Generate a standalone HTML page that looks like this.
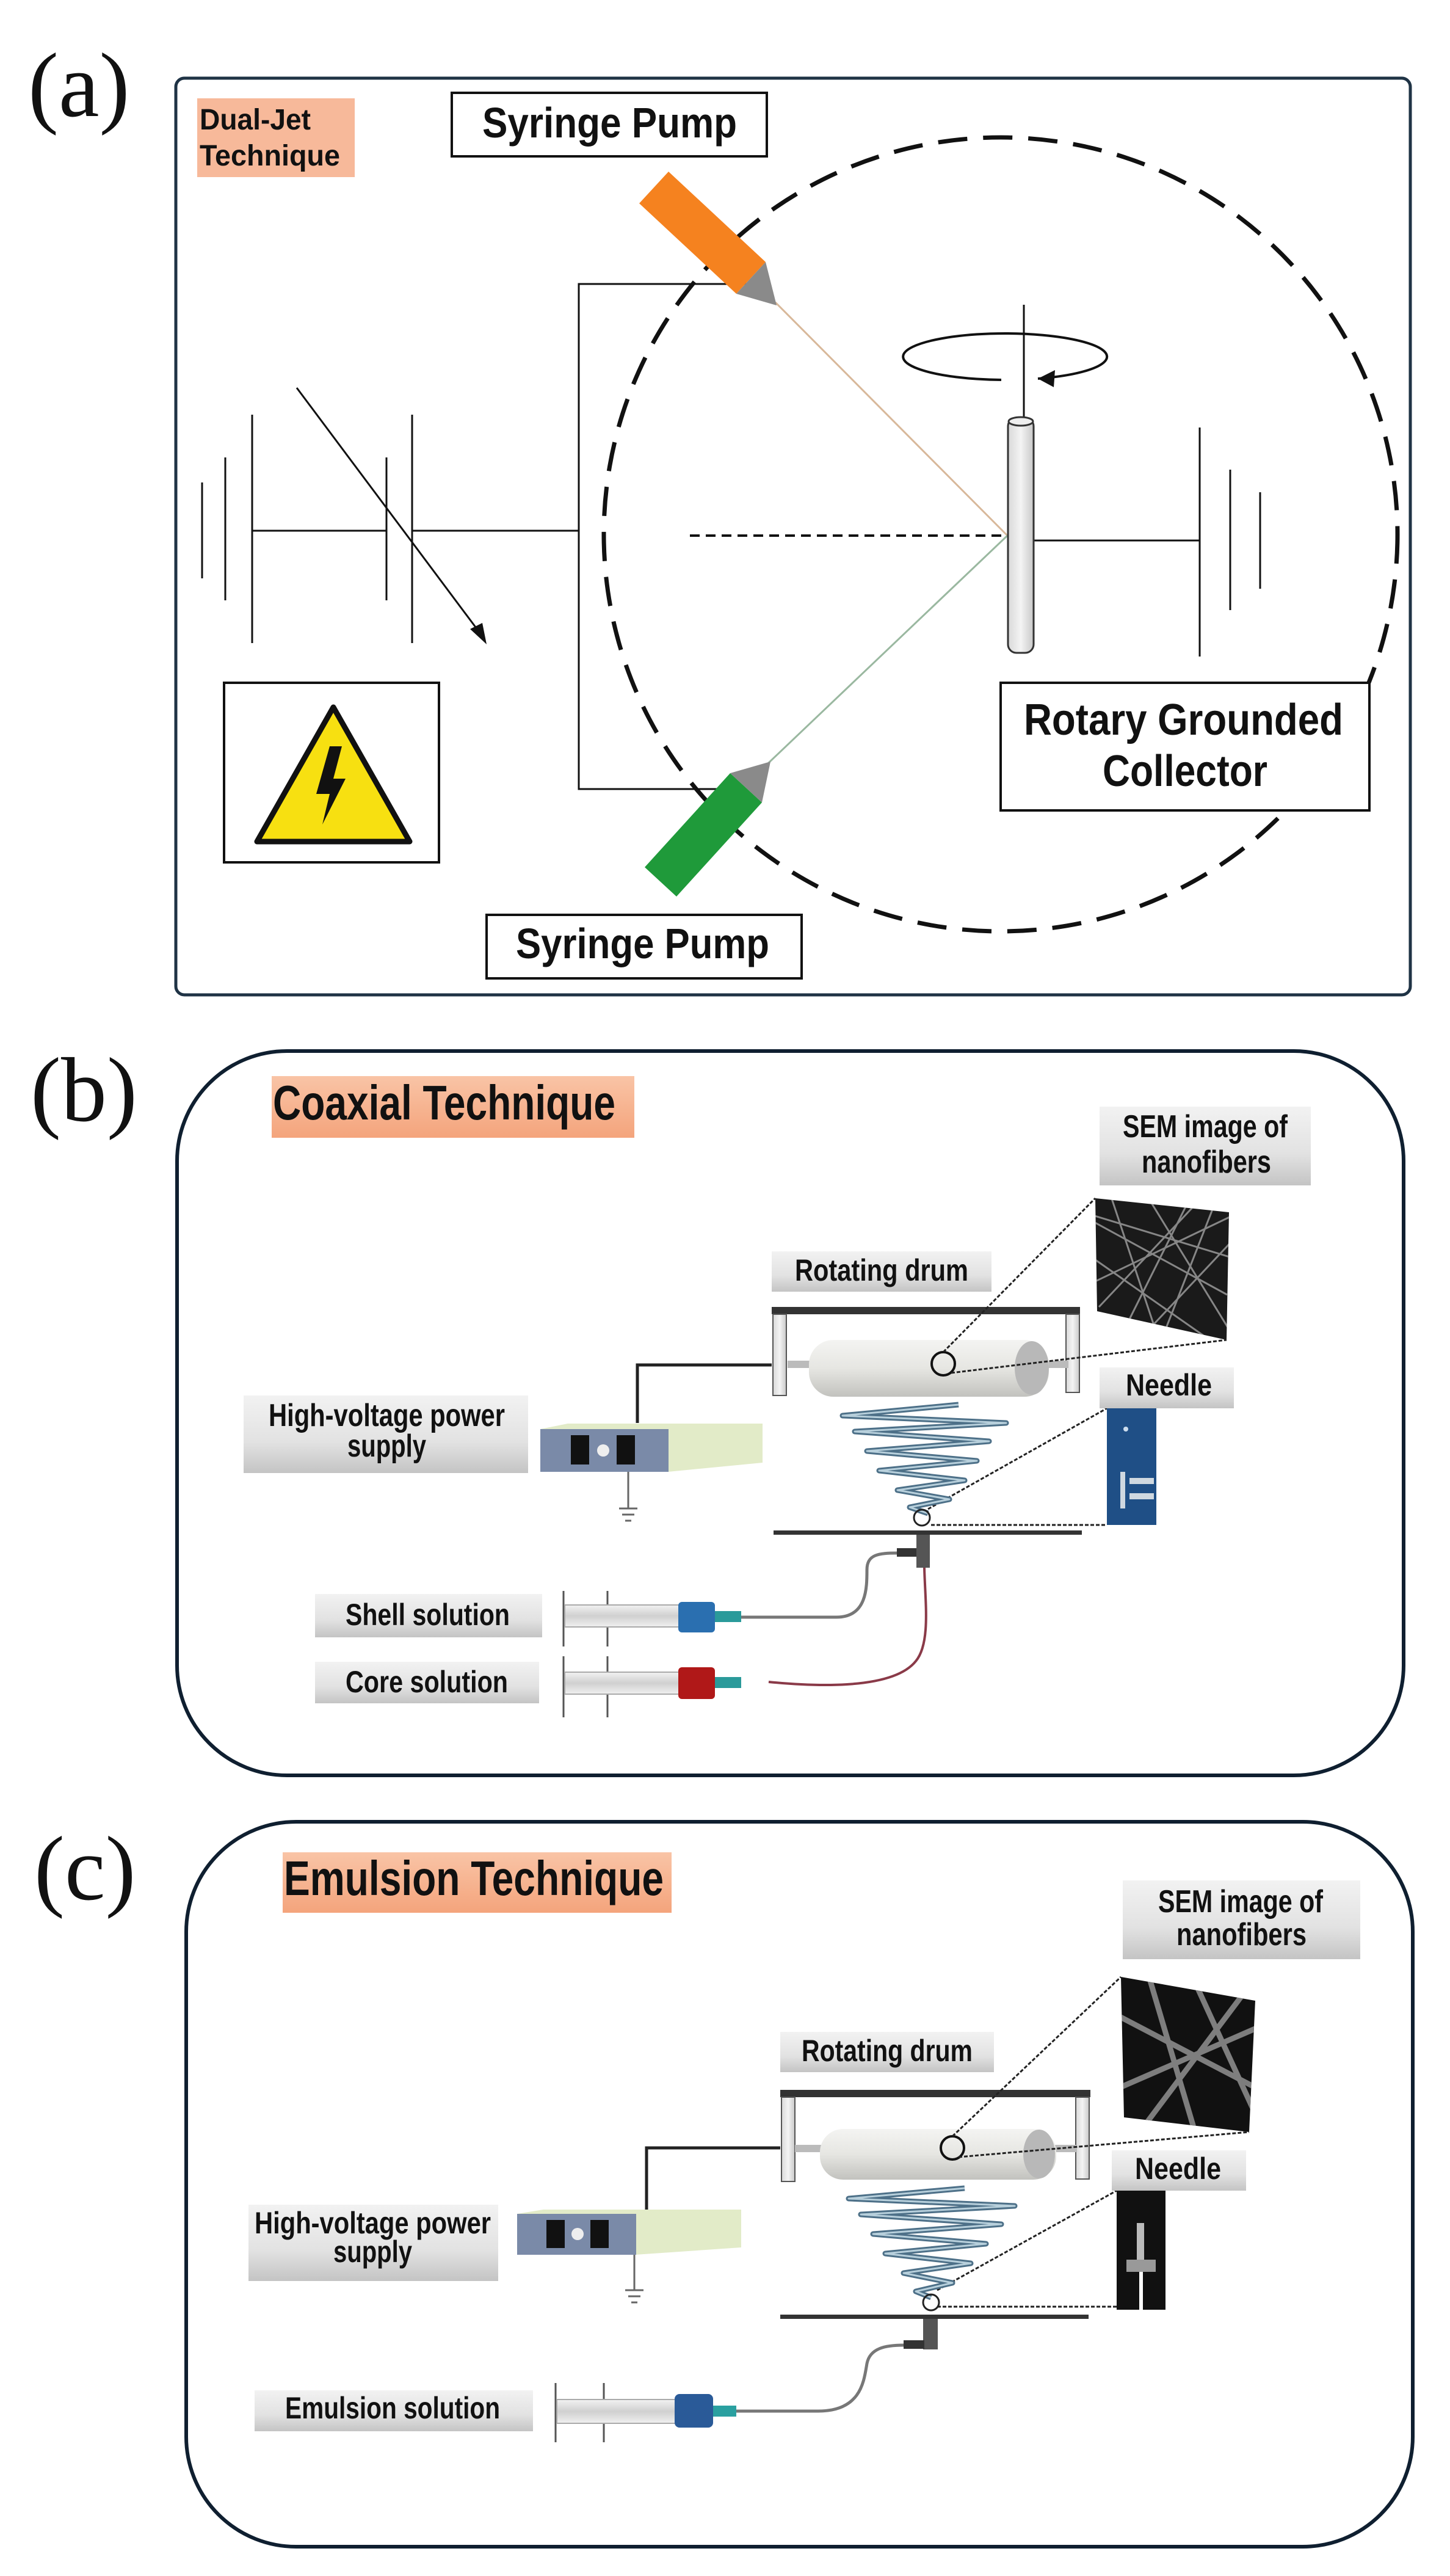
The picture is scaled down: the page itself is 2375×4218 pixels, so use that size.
<!DOCTYPE html>
<html><head><meta charset="utf-8"><style>html,body{margin:0;padding:0;background:#fff}svg{display:block}</style></head>
<body>
<svg width="2375" height="4218" viewBox="0 0 2375 4218" xmlns="http://www.w3.org/2000/svg" font-family="'Liberation Sans', sans-serif">
<defs>
<linearGradient id="lg" x1="0" y1="0" x2="0" y2="1"><stop offset="0" stop-color="#f2f2f2"/><stop offset="0.6" stop-color="#e2e2e2"/><stop offset="1" stop-color="#c4c4c4"/></linearGradient>
<linearGradient id="drum" x1="0" y1="0" x2="0" y2="1"><stop offset="0" stop-color="#f4f4f2"/><stop offset="0.5" stop-color="#e6e6e2"/><stop offset="1" stop-color="#c2c2be"/></linearGradient>
<linearGradient id="sal" x1="0" y1="0" x2="0" y2="1"><stop offset="0" stop-color="#f9c4a6"/><stop offset="1" stop-color="#f4a47c"/></linearGradient>
<linearGradient id="cyl" x1="0" y1="0" x2="1" y2="0"><stop offset="0" stop-color="#d8d8d8"/><stop offset="0.5" stop-color="#f4f4f4"/><stop offset="1" stop-color="#c8c8c8"/></linearGradient>
<linearGradient id="bar" x1="0" y1="0" x2="0" y2="1"><stop offset="0" stop-color="#f2f2f2"/><stop offset="0.5" stop-color="#d0d0d0"/><stop offset="1" stop-color="#f0f0f0"/></linearGradient>
<clipPath id="semb"><polygon points="1794,1962 2013,1985 2009,2194 1797,2147"/></clipPath>
<clipPath id="semc"><polygon points="1836,3237 2056,3276 2046,3491 1841,3467"/></clipPath>
</defs>

<!-- ================= PANEL A ================= -->
<text x="46" y="190" font-family="'Liberation Serif', serif" font-size="150" fill="#111">(a)</text>
<rect x="288" y="128" width="2022" height="1501" rx="14" fill="#fff" stroke="#1f3345" stroke-width="5"/>

<rect x="323" y="161" width="258" height="129" fill="#f7b99a"/>
<text x="327" y="212" font-size="48" font-weight="bold" textLength="182" lengthAdjust="spacingAndGlyphs" fill="#111">Dual-Jet</text>
<text x="327" y="271" font-size="48" font-weight="bold" textLength="230" lengthAdjust="spacingAndGlyphs" fill="#111">Technique</text>

<rect x="740" y="152" width="516" height="104" fill="#fff" stroke="#111" stroke-width="4"/>
<text x="790" y="225" font-size="70" font-weight="bold" textLength="417" lengthAdjust="spacingAndGlyphs" fill="#111">Syringe Pump</text>

<!-- dashed circle -->
<circle cx="1639" cy="875" r="650" fill="none" stroke="#111" stroke-width="7" stroke-dasharray="48,26"/>

<!-- wires -->
<g stroke="#111" stroke-width="3" fill="none">
<polyline points="1229,465 948,465 948,1292 1214,1292"/>
<line x1="413" y1="869" x2="633" y2="869"/>
<line x1="675" y1="869" x2="948" y2="869"/>
<line x1="331" y1="790" x2="331" y2="947"/>
<line x1="369" y1="749" x2="369" y2="983"/>
<line x1="413" y1="679" x2="413" y2="1053"/>
<line x1="633" y1="749" x2="633" y2="983"/>
<line x1="675" y1="679" x2="675" y2="1053"/>
<line x1="486" y1="635" x2="785" y2="1035"/>
<line x1="1693" y1="885" x2="1965" y2="885"/>
<line x1="1965" y1="700" x2="1965" y2="1075"/>
<line x1="2015" y1="769" x2="2015" y2="999"/>
<line x1="2064" y1="806" x2="2064" y2="964"/>
<line x1="1677" y1="499" x2="1677" y2="684"/>
</g>
<polygon points="797,1055 770,1030 790,1020" fill="#111"/>
<line x1="1130" y1="877" x2="1645" y2="877" stroke="#111" stroke-width="4" stroke-dasharray="16,10"/>

<!-- jets -->
<line x1="1270" y1="495" x2="1650" y2="877" stroke="#d8b89a" stroke-width="3"/>
<line x1="1259" y1="1249" x2="1650" y2="877" stroke="#9ab8a0" stroke-width="3"/>

<!-- rotation ellipse -->
<path d="M1640,622 A167,38 0 1 1 1700,620" fill="none" stroke="#111" stroke-width="4"/>
<polygon points="1700,620 1728,606 1726,634" fill="#111"/>

<!-- collector cylinder -->
<rect x="1651" y="684" width="42" height="385" rx="14" fill="url(#cyl)" stroke="#333" stroke-width="3"/>
<ellipse cx="1672" cy="690" rx="20" ry="7" fill="#eee" stroke="#333" stroke-width="3"/>

<!-- orange syringe -->
<polygon points="1095,281 1047,333 1206,481 1254,429" fill="#f5821f"/>
<polygon points="1254,429 1206,481 1272,500" fill="#8a8a8a"/>
<!-- green syringe -->
<polygon points="1108,1468 1056,1420 1196,1266 1248,1314" fill="#1f9a3a"/>
<polygon points="1248,1314 1196,1266 1262,1247" fill="#8a8a8a"/>

<!-- warning -->
<rect x="367" y="1118" width="352" height="294" fill="#fff" stroke="#111" stroke-width="4"/>
<polygon points="546,1158 421,1378 671,1378" fill="#f7e011" stroke="#111" stroke-width="9" stroke-linejoin="round"/>
<polygon points="540,1222 518,1300 540,1300 528,1350 566,1275 546,1275 560,1222" fill="#111"/>

<rect x="1639" y="1118" width="604" height="209" fill="#fff" stroke="#111" stroke-width="4"/>
<text x="1677" y="1203" font-size="72" font-weight="bold" textLength="523" lengthAdjust="spacingAndGlyphs" fill="#111">Rotary Grounded</text>
<text x="1806" y="1287" font-size="72" font-weight="bold" textLength="270" lengthAdjust="spacingAndGlyphs" fill="#111">Collector</text>

<rect x="797" y="1498" width="516" height="104" fill="#fff" stroke="#111" stroke-width="4"/>
<text x="845" y="1569" font-size="70" font-weight="bold" textLength="415" lengthAdjust="spacingAndGlyphs" fill="#111">Syringe Pump</text>

<!-- ================= PANEL B ================= -->
<text x="50" y="1835" font-family="'Liberation Serif', serif" font-size="150" fill="#111">(b)</text>
<rect x="290" y="1721" width="2009" height="1186" rx="180" fill="#fff" stroke="#0f1f30" stroke-width="6"/>

<rect x="445" y="1762" width="594" height="101" fill="url(#sal)"/>
<text x="447" y="1833" font-size="80" font-weight="bold" textLength="561" lengthAdjust="spacingAndGlyphs" fill="#111">Coaxial Technique</text>

<rect x="1801" y="1812" width="346" height="129" fill="url(#lg)"/>
<text x="1839" y="1862" font-size="52" font-weight="bold" textLength="270" lengthAdjust="spacingAndGlyphs" fill="#111">SEM image of</text>
<text x="1870" y="1920" font-size="52" font-weight="bold" textLength="212" lengthAdjust="spacingAndGlyphs" fill="#111">nanofibers</text>

<polygon points="1794,1962 2013,1985 2009,2194 1797,2147" fill="#1a1a1a"/>
<g clip-path="url(#semb)" stroke="#9a9a9a" stroke-width="3" opacity="0.85">
<line x1="1790" y1="2000" x2="2010" y2="2120"/><line x1="1820" y1="1960" x2="1900" y2="2200"/><line x1="1950" y1="1960" x2="1830" y2="2200"/><line x1="1790" y1="2100" x2="2020" y2="1990"/><line x1="1880" y1="1960" x2="2015" y2="2180"/><line x1="1790" y1="2060" x2="1990" y2="2200"/><line x1="1990" y1="1970" x2="1900" y2="2200"/><line x1="1790" y1="1990" x2="2020" y2="2060"/><line x1="1860" y1="2200" x2="2020" y2="2030"/><line x1="1800" y1="2140" x2="1960" y2="1970"/>
</g>

<rect x="1264" y="2049" width="360" height="66" fill="url(#lg)"/>
<text x="1302" y="2097" font-size="50" font-weight="bold" textLength="284" lengthAdjust="spacingAndGlyphs" fill="#111">Rotating drum</text>

<!-- frame -->
<rect x="1264" y="2140" width="505" height="12" fill="#333"/>
<rect x="1266" y="2152" width="22" height="133" fill="url(#cyl)" stroke="#555" stroke-width="2"/>
<rect x="1746" y="2152" width="22" height="128" fill="url(#cyl)" stroke="#555" stroke-width="2"/>
<rect x="1290" y="2228" width="460" height="12" fill="#bbb"/>
<rect x="1325" y="2194" width="393" height="93" rx="40" fill="url(#drum)"/>
<ellipse cx="1690" cy="2240" rx="28" ry="44" fill="#b8b8b8"/>
<circle cx="1545" cy="2233" r="19" fill="none" stroke="#111" stroke-width="4"/>
<g stroke="#222" stroke-width="3" stroke-dasharray="6,3" fill="none">
<line x1="1545" y1="2214" x2="1794" y2="1962"/>
<line x1="1558" y1="2248" x2="2009" y2="2194"/>
<line x1="1520" y1="2471" x2="1813" y2="2306"/>
<line x1="1525" y1="2497" x2="1813" y2="2497"/>
</g>
<polyline points="1264,2235 1044,2235 1044,2330" fill="none" stroke="#222" stroke-width="5"/>

<rect x="399" y="2285" width="466" height="127" fill="url(#lg)"/>
<text x="440" y="2335" font-size="52" font-weight="bold" textLength="387" lengthAdjust="spacingAndGlyphs" fill="#111">High-voltage power</text>
<text x="569" y="2385" font-size="52" font-weight="bold" textLength="129" lengthAdjust="spacingAndGlyphs" fill="#111">supply</text>

<!-- power supply -->
<polygon points="885,2340 930,2331 1249,2331 1249,2395 1094,2410 885,2410" fill="#e2ebc8"/>
<rect x="885" y="2340" width="210" height="70" fill="#7a8aa8"/>
<rect x="935" y="2350" width="30" height="48" fill="#111"/>
<rect x="1010" y="2350" width="30" height="48" fill="#111"/>
<circle cx="988" cy="2375" r="10" fill="#eee"/>
<g stroke="#666" stroke-width="3"><line x1="1029" y1="2410" x2="1029" y2="2470"/><line x1="1014" y1="2470" x2="1044" y2="2470"/><line x1="1019" y1="2480" x2="1039" y2="2480"/><line x1="1024" y1="2490" x2="1034" y2="2490"/></g>

<!-- spiral -->
<polyline points="1570,2300 1380,2318 1648,2330 1400,2344 1620,2360 1420,2376 1600,2392 1440,2408 1580,2424 1470,2440 1555,2455 1490,2468 1520,2478" fill="none" stroke="#4d7088" stroke-width="9" stroke-linejoin="round"/>
<polyline points="1570,2300 1380,2318 1648,2330 1400,2344 1620,2360 1420,2376 1600,2392 1440,2408 1580,2424 1470,2440 1555,2455 1490,2468 1520,2478" fill="none" stroke="#b8d0dc" stroke-width="3" stroke-linejoin="round"/>
<circle cx="1510" cy="2485" r="13" fill="none" stroke="#222" stroke-width="3"/>
<rect x="1267" y="2506" width="505" height="7" fill="#333"/>
<rect x="1501" y="2513" width="22" height="54" fill="#555"/>
<rect x="1469" y="2535" width="32" height="14" fill="#333"/>

<rect x="1801" y="2239" width="220" height="67" fill="url(#lg)"/>
<text x="1844" y="2285" font-size="50" font-weight="bold" textLength="141" lengthAdjust="spacingAndGlyphs" fill="#111">Needle</text>
<rect x="1813" y="2306" width="81" height="191" fill="#1f4f86"/>
<circle cx="1844" cy="2340" r="4" fill="#cde"/>
<rect x="1835" y="2410" width="8" height="60" fill="#cfd8e0"/>
<rect x="1850" y="2420" width="40" height="10" fill="#cfd8e0"/>
<rect x="1850" y="2445" width="40" height="10" fill="#cfd8e0"/>

<!-- tubes -->
<path d="M1214,2648 L1370,2648 C1420,2648 1420,2600 1420,2570 C1420,2545 1440,2543 1469,2543" fill="none" stroke="#777" stroke-width="5"/>
<path d="M1259,2754 C1320,2760 1460,2770 1500,2720 C1525,2690 1515,2620 1514,2567" fill="none" stroke="#8a3a48" stroke-width="4"/>

<rect x="516" y="2610" width="372" height="71" fill="url(#lg)"/>
<text x="566" y="2661" font-size="50" font-weight="bold" textLength="269" lengthAdjust="spacingAndGlyphs" fill="#111">Shell solution</text>
<rect x="516" y="2721" width="367" height="68" fill="url(#lg)"/>
<text x="566" y="2771" font-size="50" font-weight="bold" textLength="266" lengthAdjust="spacingAndGlyphs" fill="#111">Core solution</text>

<!-- syringes b -->
<g stroke="#555" stroke-width="3"><line x1="923" y1="2605" x2="923" y2="2696"/><line x1="995" y1="2605" x2="995" y2="2696"/><line x1="923" y1="2712" x2="923" y2="2812"/><line x1="995" y1="2712" x2="995" y2="2812"/></g>
<rect x="925" y="2628" width="190" height="36" fill="url(#bar)" stroke="#aaa" stroke-width="2"/>
<rect x="1111" y="2623" width="60" height="50" rx="6" fill="#2a6fb0"/>
<rect x="1171" y="2638" width="43" height="18" fill="#2a9a9a"/>
<rect x="925" y="2738" width="190" height="36" fill="url(#bar)" stroke="#aaa" stroke-width="2"/>
<rect x="1111" y="2730" width="60" height="52" rx="6" fill="#b01818"/>
<rect x="1171" y="2746" width="43" height="18" fill="#2a9a9a"/>

<!-- ================= PANEL C ================= -->
<text x="56" y="3110" font-family="'Liberation Serif', serif" font-size="150" fill="#111">(c)</text>
<rect x="305" y="2983" width="2009" height="1187" rx="180" fill="#fff" stroke="#0f1f30" stroke-width="6"/>

<rect x="463" y="3033" width="637" height="99" fill="url(#sal)"/>
<text x="465" y="3103" font-size="80" font-weight="bold" textLength="622" lengthAdjust="spacingAndGlyphs" fill="#111">Emulsion Technique</text>

<rect x="1839" y="3079" width="389" height="129" fill="url(#lg)"/>
<text x="1897" y="3131" font-size="52" font-weight="bold" textLength="270" lengthAdjust="spacingAndGlyphs" fill="#111">SEM image of</text>
<text x="1927" y="3185" font-size="52" font-weight="bold" textLength="213" lengthAdjust="spacingAndGlyphs" fill="#111">nanofibers</text>

<polygon points="1836,3237 2056,3276 2046,3491 1841,3467" fill="#111"/>
<g clip-path="url(#semc)" stroke="#8a8a8a" stroke-width="9" opacity="0.9">
<line x1="1830" y1="3300" x2="2060" y2="3420"/><line x1="1880" y1="3230" x2="1960" y2="3500"/><line x1="2040" y1="3260" x2="1860" y2="3500"/><line x1="1830" y1="3420" x2="2060" y2="3320"/><line x1="1950" y1="3230" x2="2060" y2="3470"/>
</g>

<rect x="1278" y="3327" width="350" height="66" fill="url(#lg)"/>
<text x="1313" y="3375" font-size="50" font-weight="bold" textLength="280" lengthAdjust="spacingAndGlyphs" fill="#111">Rotating drum</text>

<rect x="1278" y="3422" width="508" height="12" fill="#333"/>
<rect x="1280" y="3434" width="22" height="138" fill="url(#cyl)" stroke="#555" stroke-width="2"/>
<rect x="1762" y="3434" width="22" height="134" fill="url(#cyl)" stroke="#555" stroke-width="2"/>
<rect x="1302" y="3512" width="462" height="12" fill="#bbb"/>
<rect x="1343" y="3486" width="387" height="83" rx="38" fill="url(#drum)"/>
<ellipse cx="1702" cy="3527" rx="26" ry="40" fill="#b8b8b8"/>
<circle cx="1560" cy="3517" r="19" fill="none" stroke="#111" stroke-width="4"/>
<g stroke="#222" stroke-width="3" stroke-dasharray="6,3" fill="none">
<line x1="1560" y1="3498" x2="1836" y2="3237"/>
<line x1="1570" y1="3532" x2="2046" y2="3491"/>
<line x1="1535" y1="3750" x2="1829" y2="3587"/>
<line x1="1535" y1="3777" x2="1829" y2="3777"/>
</g>
<polyline points="1278,3517 1059,3517 1059,3630" fill="none" stroke="#222" stroke-width="5"/>

<rect x="407" y="3610" width="409" height="125" fill="url(#lg)"/>
<text x="417" y="3657" font-size="50" font-weight="bold" textLength="387" lengthAdjust="spacingAndGlyphs" fill="#111">High-voltage power</text>
<text x="546" y="3704" font-size="50" font-weight="bold" textLength="129" lengthAdjust="spacingAndGlyphs" fill="#111">supply</text>

<polygon points="847,3625 890,3618 1214,3618 1214,3680 1040,3692 847,3692" fill="#e2ebc8"/>
<rect x="847" y="3625" width="195" height="67" fill="#7a8aa8"/>
<rect x="895" y="3635" width="30" height="46" fill="#111"/>
<rect x="967" y="3635" width="30" height="46" fill="#111"/>
<circle cx="946" cy="3658" r="10" fill="#eee"/>
<g stroke="#666" stroke-width="3"><line x1="1039" y1="3692" x2="1039" y2="3750"/><line x1="1024" y1="3750" x2="1054" y2="3750"/><line x1="1029" y1="3760" x2="1049" y2="3760"/><line x1="1034" y1="3770" x2="1044" y2="3770"/></g>

<polyline points="1580,3583 1390,3600 1662,3612 1410,3626 1640,3642 1430,3658 1615,3674 1450,3690 1590,3706 1480,3722 1560,3738 1500,3752 1525,3762" fill="none" stroke="#4d7088" stroke-width="9" stroke-linejoin="round"/>
<polyline points="1580,3583 1390,3600 1662,3612 1410,3626 1640,3642 1430,3658 1615,3674 1450,3690 1590,3706 1480,3722 1560,3738 1500,3752 1525,3762" fill="none" stroke="#b8d0dc" stroke-width="3" stroke-linejoin="round"/>
<circle cx="1525" cy="3770" r="13" fill="none" stroke="#222" stroke-width="3"/>
<rect x="1278" y="3790" width="505" height="7" fill="#333"/>
<rect x="1512" y="3797" width="24" height="50" fill="#555"/>
<rect x="1480" y="3832" width="34" height="14" fill="#333"/>

<rect x="1821" y="3521" width="220" height="66" fill="url(#lg)"/>
<text x="1859" y="3568" font-size="50" font-weight="bold" textLength="141" lengthAdjust="spacingAndGlyphs" fill="#111">Needle</text>
<rect x="1829" y="3587" width="80" height="195" fill="#111"/>
<rect x="1862" y="3640" width="12" height="70" fill="#bbb"/>
<rect x="1845" y="3700" width="48" height="20" fill="#999"/>
<rect x="1866" y="3720" width="6" height="62" fill="#fff"/>

<path d="M1206,3948 L1340,3948 C1410,3948 1415,3900 1420,3870 C1425,3845 1450,3840 1480,3840" fill="none" stroke="#777" stroke-width="5"/>

<rect x="417" y="3914" width="456" height="67" fill="url(#lg)"/>
<text x="467" y="3960" font-size="50" font-weight="bold" textLength="352" lengthAdjust="spacingAndGlyphs" fill="#111">Emulsion solution</text>

<g stroke="#555" stroke-width="3"><line x1="910" y1="3902" x2="910" y2="3999"/><line x1="989" y1="3902" x2="989" y2="3999"/></g>
<rect x="912" y="3929" width="195" height="39" fill="url(#bar)" stroke="#aaa" stroke-width="2"/>
<rect x="1105" y="3920" width="63" height="55" rx="8" fill="#2a5a98"/>
<rect x="1168" y="3939" width="38" height="18" fill="#2aa0a0"/>
</svg>
</body></html>
